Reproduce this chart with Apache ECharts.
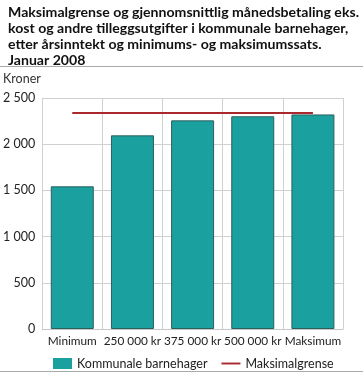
<!DOCTYPE html>
<html><head><meta charset="utf-8">
<script src="https://cdn.jsdelivr.net/npm/echarts@6/dist/echarts.min.js"></script>
<style>html,body{margin:0;padding:0;background:#fff}#c{width:363px;height:375px}</style>
</head><body><div id="c"></div>
<script>
const categories = ['Minimum', '250 000 kr', '375 000 kr', '500 000 kr', 'Maksimum'];
const kommunale = [1544, 2096, 2258, 2302, 2322];
const maksimalgrense = [2338, 2338, 2338, 2338, 2338];
const yTicks = { min: 0, max: 2500, interval: 500 };
const titleText = 'Maksimalgrense og gjennomsnittlig månedsbetaling eks.\nkost og andre tilleggsutgifter i kommunale barnehager,\netter årsinntekt og minimums- og maksimumssats.\nJanuar 2008';

const chart = echarts.init(document.getElementById('c'));
const font = 'Lato, "Noto Sans", sans-serif';
chart.setOption({
  animation: false,
  textStyle: { fontFamily: font },
  title: {
    text: titleText, left: 3, top: -1,
    textStyle: { fontFamily: font, fontSize: 14.1, fontWeight: 'bold', color: '#111', lineHeight: 16.2 }
  },
  graphic: [
    { type: 'line', shape: { x1: 0, y1: 66.5, x2: 363, y2: 66.5 }, style: { stroke: '#aaa', lineWidth: 1 } },
    { type: 'line', shape: { x1: 0, y1: 371.5, x2: 363, y2: 371.5 }, style: { stroke: '#aaa', lineWidth: 1 } },
    { type: 'text', left: 3, top: 72, style: { text: 'Kroner', fontSize: 12.5, fontFamily: font, fill: '#333' } }
  ],
  grid: { left: 39, right: 20, top: 98, bottom: 46, containLabel: false },
  legend: {
    left: 48, top: 352, itemGap: 14,
    textStyle: { fontSize: 12.5, color: '#222', fontFamily: font },
    data: [
      { name: 'Kommunale barnehager', icon: 'rect', itemStyle: { borderWidth: 0 } },
      { name: 'Maksimalgrense', icon: 'path://M0,0 L20,0 L20,2 L0,2 Z', itemStyle: { color: '#a8282b' } }
    ],
    itemWidth: 19, itemHeight: 11
  },
  xAxis: {
    type: 'category', data: categories, boundaryGap: true,
    axisLine: { show: true, lineStyle: { color: '#c8c8c8', width: 1 } },
    axisTick: { show: false },
    splitLine: { show: true, lineStyle: { color: '#d0d0d0', width: 1 } },
    axisLabel: { fontSize: 11.8, color: '#222', margin: 6, interval: 0, fontFamily: font }
  },
  yAxis: {
    type: 'value', min: yTicks.min, max: yTicks.max, interval: yTicks.interval,
    axisLine: { show: false }, axisTick: { show: false },
    splitLine: { lineStyle: { color: '#d0d0d0', width: 1 } },
    axisLabel: {
      fontSize: 12.5, color: '#222', margin: 7, fontFamily: font,
      formatter: v => String(v).replace(/\B(?=(\d{3})+(?!\d))/g, ' ')
    }
  },
  series: [
    {
      name: 'Kommunale barnehager', type: 'bar', data: kommunale, barWidth: 43,
      itemStyle: { color: '#1aa19f', borderColor: '#2a5f5e', borderWidth: 1 }
    },
    {
      name: 'Maksimalgrense', type: 'line', data: maksimalgrense, symbol: 'none',
      lineStyle: { color: '#a8282b', width: 2 }, itemStyle: { color: '#a8282b' }
    }
  ]
});
</script></body></html>
